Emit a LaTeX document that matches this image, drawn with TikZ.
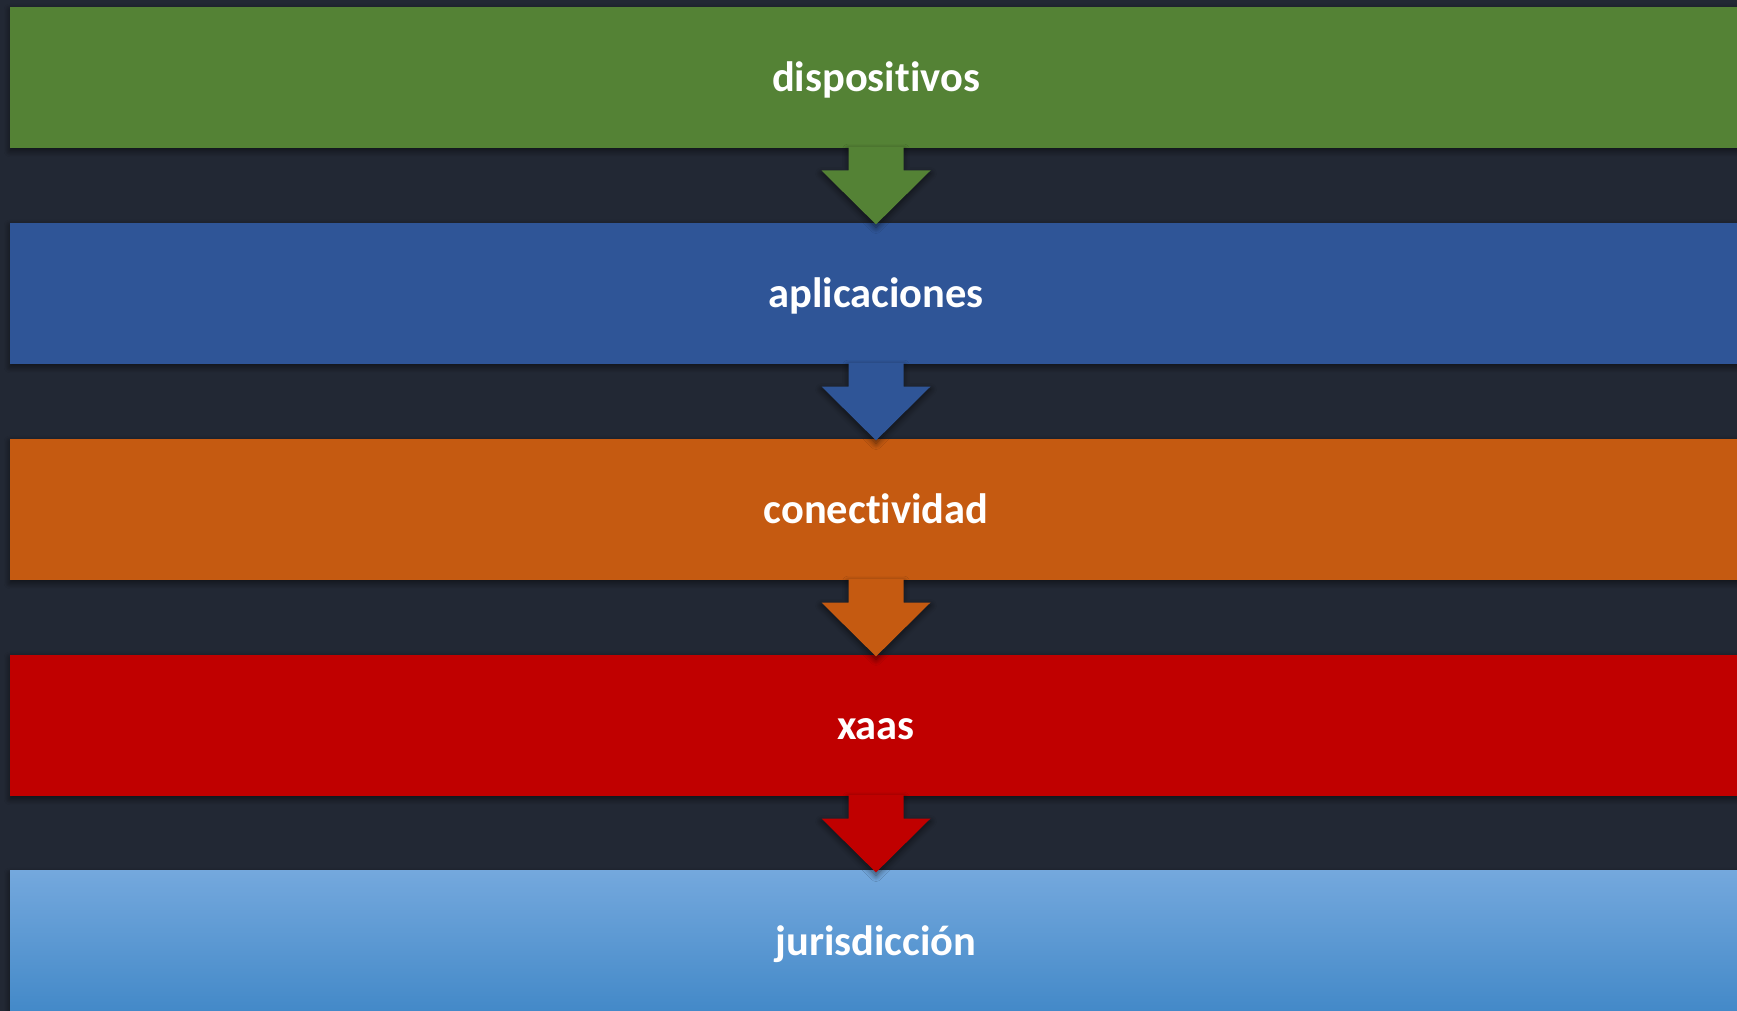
\documentclass[tikz,border=0pt]{standalone}
\usepackage{fontspec}
\setmainfont{Carlito}[Ligatures=NoCommon]
\usetikzlibrary{calc,shadows.blur}

\definecolor{bgdark}{HTML}{222834}
\definecolor{cgreen}{HTML}{548235}
\definecolor{cblue}{HTML}{2F5597}
\definecolor{corange}{HTML}{C55A11}
\definecolor{cred}{HTML}{C00000}
\definecolor{lbtop}{HTML}{74A8DD}
\definecolor{lbbot}{HTML}{4389C8}

\tikzset{
  softshadow/.style={blur shadow={shadow xshift=0pt, shadow yshift=-3pt,
    shadow blur radius=6pt, shadow blur steps=10, shadow opacity=55}},
  band/.style={rectangle, minimum width=1732pt, minimum height=141pt,
    inner sep=0pt, text=white, text height=38.5pt, text depth=9.5pt,
    font=\bfseries\fontsize{42.5}{51}\selectfont, softshadow},
  flowarrow/.style={softshadow}
}

% downward block arrow hanging from one band onto the next
\newcommand{\bandarrow}[3]{%
  \fill[#3, flowarrow]
    ($(#1.south)+(-27.5,-1)$) -- ($(#1.south)+(27.5,-1)$) --
    ($(#1.south)+(27.5,22.5)$) -- ($(#1.south)+(54.5,22.5)$) --
    ($(#2.north)+(0,1.8)$) --
    ($(#1.south)+(-54.5,22.5)$) -- ($(#1.south)+(-27.5,22.5)$) -- cycle;}

\begin{document}
\begin{tikzpicture}[x=1pt,y=-1pt]
  \fill[bgdark] (0,0) rectangle (1737,1011);
  \useasboundingbox (0,0) rectangle (1737,1011);

  \node[band, fill=cgreen]  (dev)  at (876,77.3)  {dispositivos};
  \node[band, fill=cblue]   (app)  at (876,293.3) {aplicaciones};
  \node[band, fill=corange] (con)  at (876,509.3) {conectividad};
  \node[band, fill=cred]    (xaas) at (876,725.3) {xaas};
  \node[band, top color=lbtop, bottom color=lbbot] (jur) at (876,941.3) {jurisdicción};

  \bandarrow{dev}{app}{cgreen}
  \bandarrow{app}{con}{cblue}
  \bandarrow{con}{xaas}{corange}
  \bandarrow{xaas}{jur}{cred}
\end{tikzpicture}
\end{document}
